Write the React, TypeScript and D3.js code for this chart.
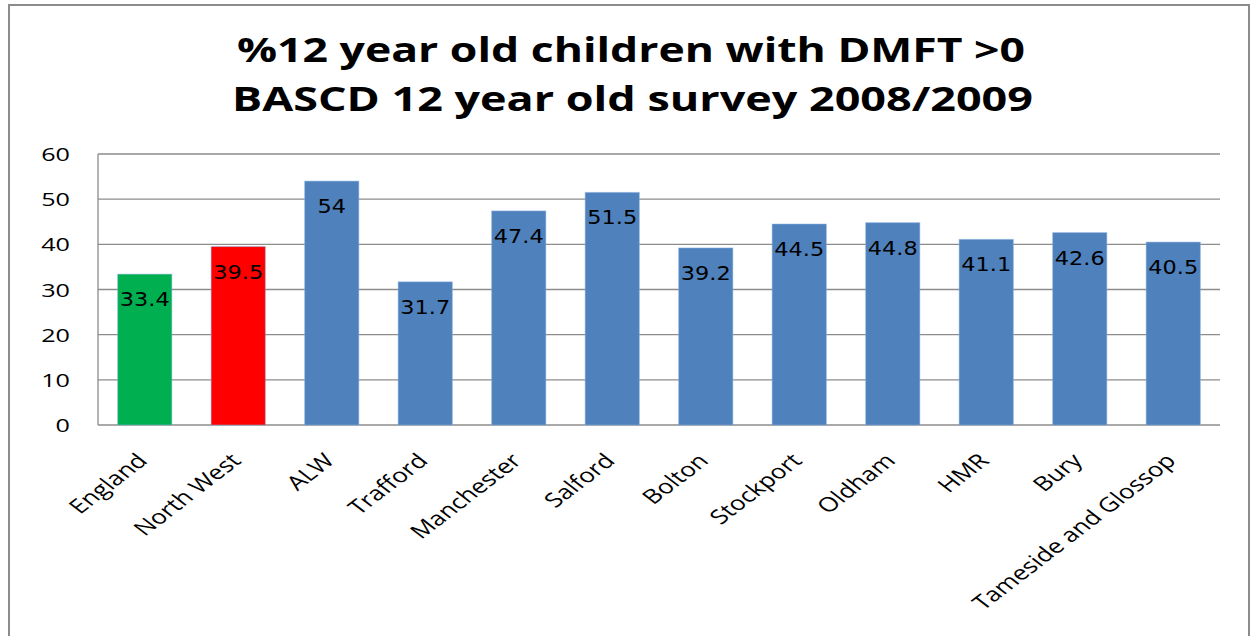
import React from "react";
import * as d3 from "d3";

const categories = ["England", "North West", "ALW", "Trafford", "Manchester", "Salford", "Bolton", "Stockport", "Oldham", "HMR", "Bury", "Tameside and Glossop"];
const values = [33.4, 39.5, 54, 31.7, 47.4, 51.5, 39.2, 44.5, 44.8, 41.1, 42.6, 40.5];
const barColors = ["#00B050", "#FF0000", "#4F81BD", "#4F81BD", "#4F81BD", "#4F81BD", "#4F81BD", "#4F81BD", "#4F81BD", "#4F81BD", "#4F81BD", "#4F81BD"];
const yTicks = [0, 10, 20, 30, 40, 50, 60];
const titleLines = ["%12 year old children with DMFT >0", "BASCD 12 year old survey 2008/2009"];

export default function App() {
  const W = 1253, H = 636;
  const left = 98, right = 1220, top = 154, bottom = 425;
  const x = d3.scaleBand<string>().domain(categories).range([left, right]).paddingInner(0.42).paddingOuter(0.21);
  const y = d3.scaleLinear().domain([0, 60]).range([bottom, top]);
  const font = "'Open Sans', 'Liberation Sans', sans-serif";
  const titleSpans = [[237, 1025, 62], [232, 1033, 111]];
  return (
    <svg width={W} height={H} style={{ position: "absolute", left: 0, top: 0, background: "#fff" }}>
      <rect x={9} y={5} width={1240} height={660} fill="#fff" stroke="#8c8c8c" strokeWidth={2} />
      {titleLines.map((t, i) => (
        <text key={i} x={titleSpans[i][0]} y={titleSpans[i][2]} textLength={titleSpans[i][1] - titleSpans[i][0]} lengthAdjust="spacingAndGlyphs" fontFamily={font} fontWeight="bold" fontSize={34} fill="#000">{t}</text>
      ))}
      {yTicks.map((t) => (
        <g key={t}>
          <line x1={left} x2={right} y1={y(t)} y2={y(t)} stroke="#8c8c8c" strokeWidth={1.3} />
          <text transform={`translate(70,${y(t) + 7}) scale(1.4,1)`} textAnchor="end" fontFamily={font} fontSize={18} fill="#000">{t}</text>
        </g>
      ))}
      <line x1={left} x2={left} y1={top} y2={bottom} stroke="#8c8c8c" strokeWidth={1.3} />
      {categories.map((c, i) => {
        const bx = x(c)!;
        const bw = x.bandwidth();
        const v = values[i];
        return (
          <g key={c}>
            <rect x={bx} y={y(v)} width={bw} height={bottom - y(v)} fill={barColors[i]} stroke="#8db3e2" strokeOpacity={0.5} strokeWidth={1} />
            <text transform={`translate(${bx + bw / 2},${y(v) + 32}) scale(1.12,1)`} textAnchor="middle" fontFamily="'DejaVu Sans', sans-serif" fontSize={20} fill="#000">{v}</text>
            <text transform={`translate(${bx + bw / 2 + 4},${bottom + 37}) scale(1.3,1) rotate(-45)`} textAnchor="end" fontFamily={font} fontSize={20} fill="#000">{c}</text>
          </g>
        );
      })}
    </svg>
  );
}
